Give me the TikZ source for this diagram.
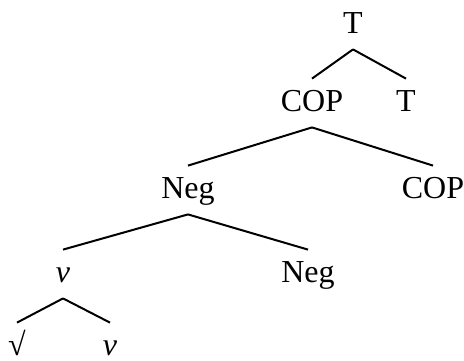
\documentclass[tikz,border=0pt]{standalone}
\usepackage{fontspec}
\setmainfont{Liberation Serif}

\begin{document}
\begin{tikzpicture}[
  x=0.5pt, y=-0.5pt,
  label/.style={inner sep=0pt, anchor=base, text height=16pt, text depth=8pt, font=\fontsize{16}{19}\selectfont},
  branch/.style={line width=1pt, draw=black}
]
\useasboundingbox (0,0) rectangle (464,360);
\def\yLevelOne{33}
\def\yLevelTwo{111}
\def\yLevelThree{198}
\def\yLevelFour{282}
\def\yLevelFive{355}
\node[label] (tTop) at (353, \yLevelOne) {T};
\node[label] (cop) at (312, \yLevelTwo) {COP};
\node[label] (tHead) at (406, \yLevelTwo) {T};
\node[label] (neg) at (188, \yLevelThree) {Neg};
\node[label] (copHead) at (433, \yLevelThree) {COP};
\node[label] (vSmall) at (63, \yLevelFour) {\textit{v}};
\node[label] (negHead) at (308, \yLevelFour) {Neg};
\node[label] (root) at (17, \yLevelFive) {√};
\node[label] (vHead) at (110, \yLevelFive) {\textit{v}};
\draw[branch] (tTop.south) -- (cop.north);
\draw[branch] (tTop.south) -- (tHead.north);
\draw[branch] (cop.south) -- (neg.north);
\draw[branch] (cop.south) -- (copHead.north);
\draw[branch] (neg.south) -- (vSmall.north);
\draw[branch] (neg.south) -- (negHead.north);
\draw[branch] (vSmall.south) -- (root.north);
\draw[branch] (vSmall.south) -- (vHead.north);
\end{tikzpicture}
\end{document}
